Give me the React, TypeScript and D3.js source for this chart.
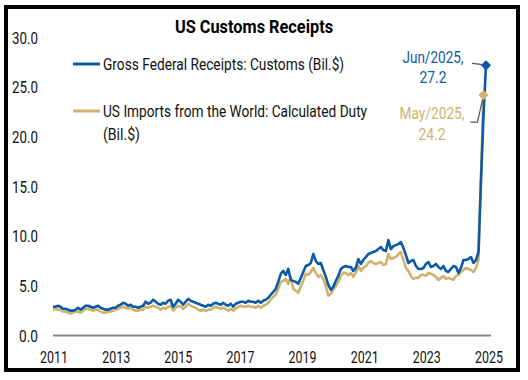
import React, { useLayoutEffect, useRef, useState } from "react";
import * as d3 from "d3";

const TITLE = "US Customs Receipts";
const BLUE_NAME = "Gross Federal Receipts: Customs (Bil.$)";
const GOLD_NAME_1 = "US Imports from the World: Calculated Duty";
const GOLD_NAME_2 = "(Bil.$)";
const X_LABELS = ["2011", "2013", "2015", "2017", "2019", "2021", "2023", "2025"];
const Y_TICKS = [0, 5, 10, 15, 20, 25, 30];
const START_YEAR = 2011;

// Gross Federal Receipts: Customs, monthly Jan 2011 - Jun 2025
const customs: number[] = [
  // 2011
  2.9, 2.9, 3.0, 2.9, 2.7, 2.7, 2.6, 2.5, 2.5, 2.6, 2.8, 2.6,
  // 2012
  2.8, 3.0, 3.0, 2.9, 2.8, 2.9, 3.0, 2.8, 2.7, 2.6, 2.6, 2.7,
  // 2013
  2.8, 2.8, 3.0, 3.1, 3.3, 3.2, 3.0, 3.1, 2.9, 2.9, 2.8, 2.9,
  // 2014
  3.0, 3.4, 3.2, 3.3, 3.6, 3.4, 3.2, 3.1, 3.3, 3.2, 3.5, 3.6,
  // 2015
  2.9, 3.2, 3.6, 3.4, 3.1, 3.4, 3.7, 3.5, 3.4, 3.3, 3.2, 3.1,
  // 2016
  3.0, 2.9, 3.1, 3.0, 3.2, 3.3, 3.2, 3.1, 3.3, 3.1, 3.0, 3.2,
  // 2017
  2.9, 3.2, 3.3, 3.4, 3.4, 3.3, 3.5, 3.4, 3.4, 3.3, 3.5, 3.3,
  // 2018
  3.5, 3.6, 3.8, 4.1, 4.4, 4.7, 5.4, 6.2, 6.5, 6.1, 6.7, 5.6,
  // 2019
  5.5, 5.4, 5.2, 5.8, 6.4, 7.0, 7.1, 7.3, 8.2, 7.5, 7.2, 7.3,
  // 2020
  6.6, 5.9, 5.1, 4.6, 4.9, 5.5, 6.0, 6.7, 6.9, 7.0, 6.9, 6.9,
  // 2021
  6.5, 6.8, 7.7, 7.2, 7.6, 7.9, 8.2, 8.3, 8.4, 8.5, 8.7, 8.9,
  // 2022
  8.6, 8.5, 9.6, 8.7, 9.0, 9.1, 9.2, 9.4, 8.8, 8.1, 7.3, 7.5,
  // 2023
  7.6, 7.0, 6.7, 6.7, 6.8, 7.2, 7.4, 6.9, 7.0, 7.2, 6.9, 6.7,
  // 2024
  7.0, 6.5, 6.4, 6.7, 7.0, 6.9, 6.3, 6.8, 7.6, 7.6, 7.7, 7.9,
  // 2025
  7.3, 7.6, 8.4, 15.6, 22.2, 27.2,
];

// US Imports from the World: Calculated Duty, monthly Jan 2011 - May 2025
const duty: number[] = [
  // 2011
  2.6, 2.7, 2.6, 2.6, 2.4, 2.4, 2.3, 2.2, 2.3, 2.4, 2.4, 2.3,
  // 2012
  2.5, 2.7, 2.7, 2.6, 2.5, 2.6, 2.6, 2.4, 2.3, 2.3, 2.4, 2.4,
  // 2013
  2.5, 2.6, 2.7, 2.8, 2.9, 2.8, 2.7, 2.8, 2.6, 2.5, 2.5, 2.6,
  // 2014
  2.6, 2.9, 2.8, 2.9, 3.0, 2.9, 2.8, 2.6, 2.8, 2.7, 2.9, 3.0,
  // 2015
  2.5, 2.8, 3.0, 2.9, 2.7, 2.9, 3.2, 3.0, 2.9, 2.8, 2.6, 2.5,
  // 2016
  2.6, 2.5, 2.6, 2.6, 2.8, 2.9, 2.8, 2.7, 2.8, 2.7, 2.5, 2.7,
  // 2017
  2.5, 2.7, 2.9, 3.0, 2.9, 2.9, 3.0, 2.9, 2.9, 2.8, 3.0, 2.8,
  // 2018
  3.0, 3.1, 3.3, 3.6, 3.9, 4.1, 4.7, 5.4, 5.5, 5.7, 5.2, 5.9,
  // 2019
  4.7, 4.5, 4.3, 4.9, 5.5, 6.2, 6.1, 6.4, 6.8, 6.3, 5.9, 6.1,
  // 2020
  5.7, 5.0, 4.0, 4.2, 4.6, 5.0, 5.4, 6.0, 6.3, 6.3, 6.1, 6.3,
  // 2021
  5.9, 6.3, 7.0, 6.5, 6.8, 7.0, 7.3, 7.5, 7.3, 7.2, 7.3, 7.4,
  // 2022
  7.1, 7.2, 8.2, 7.7, 7.8, 7.9, 8.2, 8.4, 7.6, 6.8, 6.5, 6.0,
  // 2023
  5.7, 5.8, 5.8, 6.1, 6.1, 6.0, 6.3, 6.2, 6.1, 5.9, 5.6, 5.8,
  // 2024
  6.0, 5.7, 5.8, 5.7, 5.6, 6.0, 6.1, 6.4, 6.6, 6.8, 6.7, 6.6,
  // 2025
  6.4, 6.8, 7.6, 16.0, 24.2,
];

const BLUE = "#0c5aa6";
const GOLD = "#cfb36d";
const FONT = "Roboto, 'Noto Sans', sans-serif";

const W = 528;
const H = 380;

type Pt = { i: number; v: number };

function monthLabel(i: number) {
  const months = ["Jan", "Feb", "Mar", "Apr", "May", "Jun", "Jul", "Aug", "Sep", "Oct", "Nov", "Dec"];
  return `${months[i % 12]}/${START_YEAR + Math.floor(i / 12)}`;
}

type FitProps = {
  x: number;
  y: number;
  width: number;
  anchor?: "start" | "middle" | "end";
  size: number;
  fill: string;
  weight?: string;
  children: string;
};

// Condensed text: measured once, then squeezed horizontally to the target width.
function FitText({ x, y, width, anchor = "start", size, fill, weight, children }: FitProps) {
  const ref = useRef<SVGTextElement>(null);
  const [sx, setSx] = useState(0.8);
  useLayoutEffect(() => {
    if (ref.current) {
      const len = ref.current.getComputedTextLength();
      if (len > 0) setSx(width / len);
    }
  }, [width, children, size]);
  return (
    <g transform={`translate(${x},${y}) scale(${sx},1)`}>
      <text ref={ref} x={0} y={0} textAnchor={anchor} fontSize={size} fill={fill} fontWeight={weight}>
        {children}
      </text>
    </g>
  );
}

export default function App() {
  const x = d3.scaleLinear().domain([0, customs.length - 1]).range([53, 486]);
  const y = d3.scaleLinear().domain([0, 30]).range([335.5, 37.5]);
  const xl = d3.scalePoint<string>().domain(X_LABELS).range([54, 489]);

  const line = d3
    .line<Pt>()
    .x((d) => x(d.i))
    .y((d) => y(d.v));

  const bluePts: Pt[] = customs.map((v, i) => ({ i, v }));
  const goldPts: Pt[] = duty.map((v, i) => ({ i, v }));
  const bLast = bluePts[bluePts.length - 1];
  const gLast = goldPts[goldPts.length - 1];
  const bx = x(bLast.i);
  const by = y(bLast.v);
  const gx = x(gLast.i);
  const gy = y(gLast.v);
  const diamond = d3.symbol().type(d3.symbolSquare).size(52)() as string;

  const yLabelWidth = (s: string) => (s.length === 4 ? 26 : 19);

  return (
    <svg
      width={W}
      height={H}
      style={{ position: "absolute", left: 0, top: 0, background: "#fff" }}
      fontFamily={FONT}
    >
      <rect x={0} y={0} width={W} height={H} fill="#fff" />
      <rect x={6} y={7} width={512} height={363} fill="none" stroke="#000" strokeWidth={4} />

      <FitText x={254} y={33} anchor="middle" size={18} weight="bold" fill="#000" width={158}>
        {TITLE}
      </FitText>

      {/* y axis labels */}
      {Y_TICKS.map((t) => {
        const s = t.toFixed(1);
        return (
          <FitText key={t} x={38} y={y(t) + 6} anchor="end" size={16.5} fill="#111" width={yLabelWidth(s)}>
            {s}
          </FitText>
        );
      })}

      {/* baseline */}
      <line x1={53} x2={491} y1={y(0)} y2={y(0)} stroke="#8a8a8a" strokeWidth={2} />

      {/* x labels */}
      {X_LABELS.map((l) => (
        <FitText key={l} x={xl(l) as number} y={363} anchor="middle" size={16.5} fill="#111" width={28}>
          {l}
        </FitText>
      ))}

      {/* series */}
      <path d={line(goldPts) || ""} fill="none" stroke={GOLD} strokeWidth={2.6} strokeLinejoin="round" />
      <path d={line(bluePts) || ""} fill="none" stroke={BLUE} strokeWidth={2.6} strokeLinejoin="round" />

      {/* legend */}
      <line x1={73} x2={100} y1={64} y2={64} stroke={BLUE} strokeWidth={3} />
      <FitText x={103} y={69.5} size={16} fill="#111" width={241}>
        {BLUE_NAME}
      </FitText>
      <line x1={73} x2={100} y1={111} y2={111} stroke={GOLD} strokeWidth={3} />
      <FitText x={103} y={116.5} size={16} fill="#111" width={264}>
        {GOLD_NAME_1}
      </FitText>
      <FitText x={103} y={140} size={16} fill="#111" width={37}>
        {GOLD_NAME_2}
      </FitText>

      {/* leader lines */}
      <polyline points={`${bx - 14},${by - 2} ${bx - 5},${by - 1} ${bx},${by}`} fill="none" stroke="#555" strokeWidth={1.2} />
      <polyline points={`${gx - 13},${gy + 27} ${gx - 6},${gy + 27} ${gx},${gy}`} fill="none" stroke="#555" strokeWidth={1.2} />

      {/* end markers */}
      <path d={diamond} transform={`translate(${gx},${gy}) rotate(45)`} fill={GOLD} />
      <path d={diamond} transform={`translate(${bx},${by}) rotate(45)`} fill={BLUE} />

      {/* annotations */}
      <FitText x={433} y={63} anchor="middle" size={16} fill={BLUE} width={61}>
        {`${monthLabel(bLast.i)},`}
      </FitText>
      <FitText x={433} y={83} anchor="middle" size={16} fill={BLUE} width={27}>
        {bLast.v.toFixed(1)}
      </FitText>
      <FitText x={432} y={119} anchor="middle" size={16} fill={GOLD} width={65}>
        {`${monthLabel(gLast.i)},`}
      </FitText>
      <FitText x={432} y={140} anchor="middle" size={16} fill={GOLD} width={27}>
        {gLast.v.toFixed(1)}
      </FitText>
    </svg>
  );
}
